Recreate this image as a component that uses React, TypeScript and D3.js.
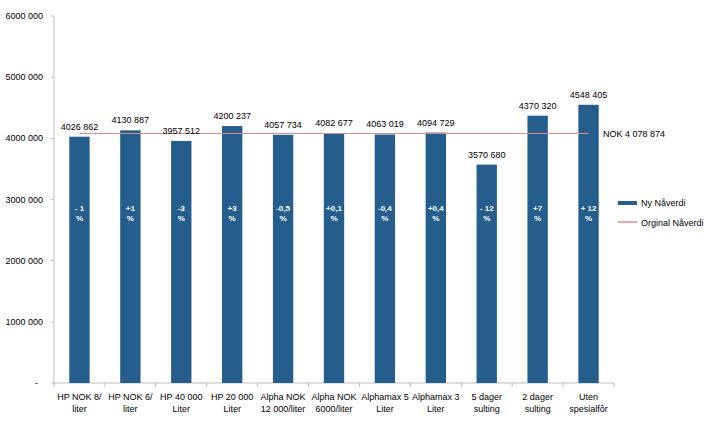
import React from "react";
import * as d3 from "d3";

const categories: string[][] = [
  ["HP NOK 8/", "liter"],
  ["HP NOK 6/", "liter"],
  ["HP 40 000", "Liter"],
  ["HP 20 000", "Liter"],
  ["Alpha NOK", "12 000/liter"],
  ["Alpha NOK", "6000/liter"],
  ["Alphamax 5", "Liter"],
  ["Alphamax 3", "Liter"],
  ["5 dager", "sulting"],
  ["2 dager", "sulting"],
  ["Uten", "spesialfôr"],
];
const values: number[] = [4026862, 4130887, 3957512, 4200237, 4057734, 4082677, 4063019, 4094729, 3570680, 4370320, 4548405];
const valueLabels: string[] = ["4026 862", "4130 887", "3957 512", "4200 237", "4057 734", "4082 677", "4063 019", "4094 729", "3570 680", "4370 320", "4548 405"];
const pctLabels: string[] = ["- 1", "+1", "-3", "+3", "-0,5", "+0,1", "-0,4", "+0,4", "- 12", "+7", "+ 12"];
const original = 4078874;
const originalLabel = "NOK 4 078 874";
const yTicks: number[] = [0, 1000000, 2000000, 3000000, 4000000, 5000000, 6000000];
const yTickLabels: string[] = ["-", "1000 000", "2000 000", "3000 000", "4000 000", "5000 000", "6000 000"];
const seriesNames: string[] = ["Ny Nåverdi", "Orginal Nåverdi"];

const BAR = "#255e8c";
const LINE = "#e08a8a";
const FONT = "'Liberation Sans', Arial, sans-serif";

export default function App() {
  const W = 707, H = 428;
  const left = 54, right = 614, top = 16, bottom = 383;
  const x = d3.scaleBand<number>().domain(d3.range(values.length)).range([left, right]).paddingInner(0.6).paddingOuter(0.3);
  const y = d3.scaleLinear().domain([0, 6000000]).range([bottom, top]);
  const step = x.step();
  const bounds = d3.range(values.length + 1).map((i) => left + i * step);
  const cx = (i: number) => (x(i) as number) + x.bandwidth() / 2;

  return (
    <svg width={W} height={H} style={{ position: "absolute", left: 0, top: 0, background: "#fff" }} fontFamily={FONT}>
      <rect width={W} height={H} fill="#fff" />
      {/* y axis */}
      <line x1={left} x2={left} y1={top} y2={bottom} stroke="#bfbfbf" strokeWidth={1} />
      {yTicks.map((t, i) => (
        <g key={t}>
          <line x1={left - 3} x2={left} y1={y(t)} y2={y(t)} stroke="#bfbfbf" />
          <text x={i === 0 ? 38 : 43} y={y(t) + 3} fontSize={9} textAnchor="end" fill="#000">{yTickLabels[i]}</text>
        </g>
      ))}
      {/* x axis */}
      <line x1={left} x2={right} y1={bottom} y2={bottom} stroke="#bfbfbf" />
      {bounds.map((b, i) => (
        <line key={i} x1={b} x2={b} y1={bottom} y2={bottom + 4} stroke="#bfbfbf" />
      ))}
      {/* bars */}
      {values.map((v, i) => (
        <rect key={i} x={x(i)} y={y(v)} width={x.bandwidth()} height={bottom - y(v)} fill={BAR} />
      ))}
      {/* original line */}
      <line x1={cx(0)} x2={cx(values.length - 1)} y1={y(original)} y2={y(original)} stroke={LINE} strokeWidth={1} />
      <text x={603} y={y(original) + 3} fontSize={9} fill="#000">{originalLabel}</text>
      {/* value labels */}
      {values.map((v, i) => (
        <text key={i} x={cx(i)} y={y(v) - 7} fontSize={9} textAnchor="middle" fill="#000">{valueLabels[i]}</text>
      ))}
      {/* pct labels */}
      {pctLabels.map((p, i) => (
        <g key={i} fontSize={8} fontWeight="bold" fill="#fff" textAnchor="middle">
          <text x={cx(i)} y={211}>{p}</text>
          <text x={cx(i)} y={221}>%</text>
        </g>
      ))}
      {/* category labels */}
      {categories.map((c, i) => (
        <g key={i} fontSize={9} textAnchor="middle" fill="#000">
          <text x={cx(i)} y={400}>{c[0]}</text>
          <text x={cx(i)} y={412}>{c[1]}</text>
        </g>
      ))}
      {/* legend */}
      <rect x={618} y={201} width={19} height={4} fill={BAR} />
      <text x={641} y={206} fontSize={9} fill="#000">{seriesNames[0]}</text>
      <line x1={618} x2={637} y1={222} y2={222} stroke={LINE} strokeWidth={1.5} />
      <text x={641} y={226} fontSize={9} fill="#000">{seriesNames[1]}</text>
    </svg>
  );
}
